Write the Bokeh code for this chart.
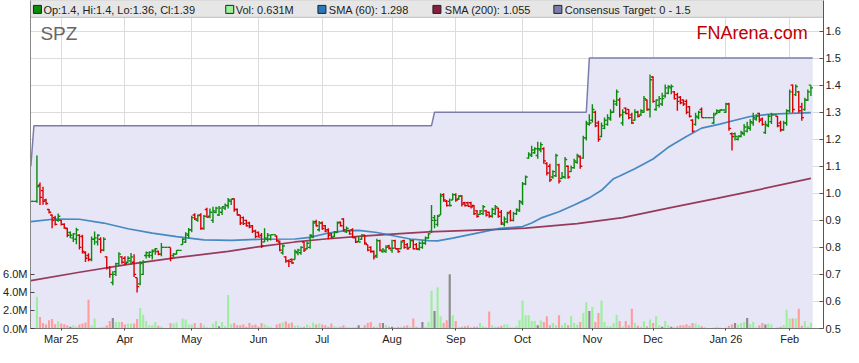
import numpy as np
from bokeh.plotting import figure
from bokeh.models import Range1d, LinearAxis, FixedTicker, ColumnDataSource, PrintfTickFormatter
from bokeh.embed import file_html
from bokeh.resources import INLINE
from bokeh.core.properties import value

# ---------------- data (one entry per weekday slot, 17 Feb 2025 .. 11 Feb 2026) ----------------
ticker = "SPZ"

opens = [
    0.97, 0.97, 0.97, 1.03, 1.01, 0.975, 0.94, 0.92, 0.91, 0.90,
    0.90, 0.885, 0.87, 0.855, 0.835, 0.83, 0.845, 0.84, 0.78, 0.77,
    0.755, 0.83, 0.82, 0.83, 0.79, 0.765, 0.725, 0.67, 0.71, 0.74,
    0.765, 0.76, 0.745, 0.75, 0.745, 0.688, 0.665, 0.70, 0.77, 0.77,
    0.77, 0.79, 0.785, 0.775, 0.80, 0.80, 0.80, 0.77, 0.775, 0.789,
    0.81, 0.82, 0.845, 0.865, 0.92, 0.90, 0.92, 0.87, 0.94, 0.915,
    0.90, 0.93, 0.92, 0.93, 0.945, 0.955, 0.97, 0.98, 0.94, 0.92,
    0.91, 0.90, 0.89, 0.88, 0.86, 0.855, 0.845, 0.82, 0.83, 0.83,
    0.847, 0.842, 0.82, 0.78, 0.765, 0.75, 0.755, 0.755, 0.78, 0.78,
    0.82, 0.795, 0.80, 0.84, 0.895, 0.865, 0.89, 0.88, 0.865, 0.85,
    0.84, 0.855, 0.893, 0.905, 0.858, 0.862, 0.865, 0.835, 0.822, 0.83,
    0.845, 0.81, 0.80, 0.785, 0.77, 0.825, 0.785, 0.785, 0.805, 0.79,
    0.825, 0.795, 0.795, 0.825, 0.81, 0.80, 0.825, 0.81, 0.795, 0.80,
    0.815, 0.835, 0.86, 0.91, 0.885, 0.92, 0.995, 0.97, 0.97, 0.975,
    0.995, 0.98, 0.99, 0.965, 0.965, 0.965, 0.955, 0.935, 0.922, 0.925,
    0.935, 0.93, 0.915, 0.925, 0.945, 0.93, 0.885, 0.895, 0.93, 0.90,
    0.925, 0.935, 0.965, 1.035, 1.13, 1.14, 1.15, 1.14, 1.16, 1.165,
    1.11, 1.10, 1.06, 1.065, 1.105, 1.055, 1.06, 1.10, 1.08, 1.095,
    1.115, 1.135, 1.13, 1.205, 1.255, 1.27, 1.30, 1.26, 1.21, 1.24,
    1.255, 1.275, 1.30, 1.33, 1.345, 1.26, 1.315, 1.31, 1.29, 1.27,
    1.30, 1.29, 1.30, 1.345, 1.31, 1.43, 1.31, 1.325, 1.33, 1.36,
    1.37, 1.39, 1.375, 1.365, 1.355, 1.345, 1.34, 1.32, 1.27, 1.255,
    1.28, 1.31, 1.28, 1.28, 1.28, 1.26, 1.295, 1.30, 1.308, 1.30,
    1.33, 1.22, 1.22, 1.20, 1.21, 1.22, 1.23, 1.24, 1.26, 1.275,
    1.295, 1.275, 1.225, 1.25, 1.265, 1.29, 1.285, 1.26, 1.235, 1.26,
    1.305, 1.40, 1.365, 1.375, 1.32, 1.31, 1.345, 1.4,
]
highs = [
    0.97, 0.97, 1.14, 1.04, 1.024, 0.98, 0.942, 0.922, 0.917, 0.925,
    0.901, 0.889, 0.873, 0.859, 0.853, 0.873, 0.849, 0.847, 0.786, 0.778,
    0.84, 0.859, 0.849, 0.837, 0.837, 0.767, 0.731, 0.712, 0.743, 0.782,
    0.767, 0.767, 0.767, 0.779, 0.775, 0.688, 0.749, 0.752, 0.785, 0.785,
    0.792, 0.798, 0.788, 0.816, 0.80, 0.80, 0.80, 0.779, 0.789, 0.789,
    0.834, 0.856, 0.872, 0.917, 0.926, 0.922, 0.926, 0.92, 0.947, 0.944,
    0.95, 0.95, 0.953, 0.95, 0.962, 0.983, 0.98, 0.981, 0.944, 0.92,
    0.914, 0.902, 0.895, 0.883, 0.865, 0.859, 0.853, 0.871, 0.853, 0.847,
    0.847, 0.844, 0.825, 0.812, 0.767, 0.755, 0.759, 0.792, 0.795, 0.804,
    0.822, 0.822, 0.849, 0.899, 0.902, 0.898, 0.896, 0.883, 0.871, 0.853,
    0.861, 0.896, 0.896, 0.908, 0.877, 0.865, 0.871, 0.837, 0.84, 0.849,
    0.847, 0.81, 0.804, 0.788, 0.832, 0.828, 0.798, 0.808, 0.81, 0.828,
    0.828, 0.798, 0.825, 0.828, 0.816, 0.831, 0.828, 0.816, 0.822, 0.825,
    0.84, 0.853, 0.957, 0.92, 0.92, 1.0, 1.0, 0.975, 0.981, 1.0,
    1.0, 0.993, 0.993, 0.969, 0.969, 0.969, 0.957, 0.938, 0.938, 0.957,
    0.938, 0.932, 0.947, 0.957, 0.947, 0.938, 0.914, 0.932, 0.938, 0.932,
    0.944, 0.975, 1.042, 1.066, 1.152, 1.176, 1.17, 1.191, 1.189, 1.17,
    1.115, 1.109, 1.085, 1.146, 1.109, 1.079, 1.134, 1.103, 1.103, 1.128,
    1.146, 1.14, 1.213, 1.268, 1.292, 1.329, 1.305, 1.268, 1.262, 1.28,
    1.292, 1.311, 1.347, 1.384, 1.353, 1.311, 1.317, 1.311, 1.298, 1.311,
    1.305, 1.311, 1.36, 1.347, 1.439, 1.433, 1.347, 1.36, 1.372, 1.402,
    1.40, 1.402, 1.378, 1.372, 1.36, 1.347, 1.347, 1.323, 1.274, 1.298,
    1.305, 1.317, 1.28, 1.28, 1.28, 1.298, 1.311, 1.31, 1.308, 1.335,
    1.335, 1.225, 1.225, 1.213, 1.231, 1.256, 1.265, 1.274, 1.298, 1.292,
    1.298, 1.28, 1.268, 1.292, 1.298, 1.29, 1.286, 1.268, 1.268, 1.311,
    1.384, 1.402, 1.402, 1.378, 1.335, 1.353, 1.384, 1.4,
]
lows = [
    0.97, 0.97, 0.965, 0.957, 0.958, 0.958, 0.925, 0.871, 0.881, 0.895,
    0.881, 0.869, 0.837, 0.834, 0.82, 0.812, 0.792, 0.777, 0.746, 0.749,
    0.749, 0.81, 0.807, 0.779, 0.786, 0.718, 0.688, 0.66, 0.694, 0.731,
    0.739, 0.734, 0.743, 0.736, 0.69, 0.633, 0.66, 0.698, 0.759, 0.761,
    0.755, 0.773, 0.771, 0.767, 0.80, 0.80, 0.749, 0.764, 0.774, 0.789,
    0.81, 0.816, 0.834, 0.856, 0.901, 0.895, 0.865, 0.865, 0.91, 0.908,
    0.89, 0.926, 0.916, 0.92, 0.938, 0.944, 0.957, 0.932, 0.918, 0.883,
    0.883, 0.877, 0.871, 0.853, 0.834, 0.837, 0.798, 0.82, 0.822, 0.825,
    0.847, 0.82, 0.786, 0.773, 0.743, 0.727, 0.739, 0.755, 0.771, 0.773,
    0.783, 0.792, 0.795, 0.834, 0.877, 0.859, 0.865, 0.856, 0.83, 0.832,
    0.837, 0.853, 0.877, 0.859, 0.853, 0.847, 0.834, 0.816, 0.82, 0.828,
    0.81, 0.786, 0.78, 0.755, 0.761, 0.786, 0.78, 0.78, 0.792, 0.78,
    0.795, 0.78, 0.795, 0.795, 0.792, 0.798, 0.792, 0.792, 0.788, 0.795,
    0.81, 0.832, 0.853, 0.871, 0.877, 0.92, 0.969, 0.951, 0.951, 0.975,
    0.969, 0.975, 0.951, 0.951, 0.951, 0.944, 0.92, 0.91, 0.92, 0.92,
    0.914, 0.91, 0.91, 0.92, 0.91, 0.883, 0.877, 0.889, 0.896, 0.896,
    0.92, 0.932, 0.957, 1.03, 1.128, 1.134, 1.146, 1.128, 1.152, 1.109,
    1.066, 1.042, 1.054, 1.06, 1.036, 1.054, 1.054, 1.054, 1.079, 1.091,
    1.109, 1.091, 1.128, 1.195, 1.25, 1.262, 1.244, 1.191, 1.207, 1.237,
    1.25, 1.268, 1.298, 1.323, 1.28, 1.25, 1.292, 1.274, 1.256, 1.268,
    1.28, 1.286, 1.298, 1.305, 1.28, 1.335, 1.305, 1.317, 1.323, 1.353,
    1.366, 1.366, 1.347, 1.305, 1.329, 1.323, 1.292, 1.28, 1.225, 1.25,
    1.274, 1.28, 1.28, 1.28, 1.28, 1.256, 1.292, 1.298, 1.308, 1.298,
    1.231, 1.158, 1.195, 1.195, 1.207, 1.213, 1.225, 1.231, 1.25, 1.268,
    1.262, 1.25, 1.219, 1.244, 1.256, 1.29, 1.244, 1.228, 1.231, 1.25,
    1.298, 1.298, 1.36, 1.298, 1.268, 1.305, 1.341, 1.36,
]
closes = [
    0.97, 0.97, 1.025, 0.985, 0.97, 0.962, 0.93, 0.90, 0.885, 0.915,
    0.885, 0.872, 0.845, 0.845, 0.85, 0.865, 0.80, 0.785, 0.76, 0.755,
    0.83, 0.835, 0.845, 0.79, 0.83, 0.725, 0.70, 0.70, 0.74, 0.775,
    0.745, 0.74, 0.76, 0.765, 0.70, 0.655, 0.74, 0.745, 0.78, 0.782,
    0.785, 0.795, 0.775, 0.80, 0.80, 0.80, 0.76, 0.775, 0.789, 0.789,
    0.83, 0.85, 0.865, 0.91, 0.905, 0.918, 0.87, 0.915, 0.912, 0.93,
    0.935, 0.945, 0.945, 0.95, 0.955, 0.975, 0.978, 0.94, 0.92, 0.89,
    0.888, 0.88, 0.875, 0.86, 0.84, 0.838, 0.805, 0.835, 0.845, 0.847,
    0.847, 0.825, 0.79, 0.805, 0.75, 0.748, 0.742, 0.785, 0.79, 0.80,
    0.79, 0.815, 0.845, 0.89, 0.88, 0.89, 0.87, 0.86, 0.845, 0.835,
    0.858, 0.89, 0.88, 0.865, 0.87, 0.85, 0.838, 0.82, 0.82, 0.845,
    0.815, 0.79, 0.785, 0.765, 0.825, 0.79, 0.79, 0.80, 0.797, 0.797,
    0.795, 0.785, 0.82, 0.80, 0.795, 0.825, 0.795, 0.793, 0.815, 0.815,
    0.835, 0.85, 0.90, 0.90, 0.915, 0.99, 0.975, 0.955, 0.955, 0.995,
    0.975, 0.99, 0.96, 0.955, 0.952, 0.95, 0.925, 0.915, 0.935, 0.95,
    0.92, 0.915, 0.94, 0.95, 0.915, 0.89, 0.905, 0.925, 0.90, 0.925,
    0.94, 0.97, 1.035, 1.06, 1.145, 1.16, 1.165, 1.165, 1.18, 1.12,
    1.075, 1.05, 1.08, 1.14, 1.045, 1.06, 1.125, 1.06, 1.095, 1.12,
    1.14, 1.10, 1.205, 1.26, 1.26, 1.31, 1.25, 1.20, 1.25, 1.27,
    1.28, 1.30, 1.34, 1.375, 1.29, 1.30, 1.295, 1.28, 1.26, 1.30,
    1.285, 1.305, 1.35, 1.31, 1.42, 1.34, 1.345, 1.35, 1.35, 1.39,
    1.395, 1.395, 1.35, 1.34, 1.335, 1.33, 1.30, 1.285, 1.23, 1.285,
    1.30, 1.28, 1.28, 1.28, 1.28, 1.29, 1.305, 1.308, 1.308, 1.33,
    1.24, 1.21, 1.21, 1.212, 1.225, 1.245, 1.245, 1.265, 1.28, 1.285,
    1.27, 1.255, 1.255, 1.285, 1.29, 1.29, 1.25, 1.235, 1.26, 1.305,
    1.375, 1.31, 1.395, 1.305, 1.28, 1.345, 1.375, 1.39,
]
volumes_m = [
    0, 0, 3.5, 1.27, 0.62, 0.44, 0.9, 1.05, 0.47, 0.8,
    0.55, 0.47, 0.36, 0.18, 0.36, 0.22, 0.44, 0.55, 0.65, 3.16,
    0.36, 1.09, 0.11, 0.11, 0.18, 0.36, 0.84, 1.16, 0.73, 0.73,
    0.73, 0.44, 0.55, 0.55, 0.55, 1.05, 2.25, 1.53, 0.84, 0.36,
    0.4, 0.73, 0.29, 0.22, 0, 0, 0.62, 0.55, 0.65, 0,
    1.09, 0.98, 0.44, 0.44, 0.62, 0.11, 0.62, 0.36, 0.11, 0.11,
    0.55, 0.84, 0.25, 0.73, 0.25, 3.7, 0.47, 0.62, 0.36, 0.36,
    0.44, 0.18, 0.62, 0.36, 0.44, 0.22, 0.62, 0.47, 0.29, 0.18,
    0, 0.44, 0.55, 0.65, 0.8, 0.55, 0.65, 0.29, 0.36, 0.18,
    0.18, 0.44, 0.25, 0.65, 0.44, 0.55, 0.44, 0.36, 0.18, 0.55,
    0.25, 0.18, 0.18, 0.36, 0.18, 0.1, 0.12, 0.1, 0.36, 0.11,
    0.36, 0.62, 0.73, 0.18, 0.18, 0.62, 0.62, 0.36, 0.18, 0.18,
    0.11, 0.18, 0.18, 0.25, 0.36, 0.18, 1.09, 0.18, 0.15, 0.73,
    0.2, 0.73, 4.18, 1.93, 4.55, 1.35, 0.62, 0.91, 6.0, 1.45,
    0.84, 0.18, 0.18, 0.25, 0.29, 0.11, 0.18, 0.18, 0.62, 0.25,
    0.11, 1.89, 0.36, 0.18, 0.18, 0.29, 0.47, 0.44, 0.11, 0.11,
    0.25, 0.91, 3.09, 1.45, 1.45, 0.84, 0.84, 0.36, 0.91, 0.73,
    1.35, 0.36, 0.62, 0.36, 1.45, 0.36, 0.62, 0.36, 1.35, 0.62,
    0.44, 0.73, 1.71, 2.9, 1.93, 2.36, 0.73, 1.71, 3.09, 0.73,
    0.25, 0.25, 0.62, 1.53, 0.84, 0.25, 0.84, 0.36, 2.18, 0.62,
    0.29, 0.18, 0.8, 0.25, 0.98, 0.62, 1.35, 0.36, 0.18, 0.84,
    0.36, 0.18, 0.11, 0.25, 0.36, 0.36, 0.47, 0.29, 0.62, 0.55,
    0.36, 0.25, 0.07, 0, 0, 0.11, 0.18, 0.11, 0, 0.11,
    0.29, 0.44, 0.62, 0.44, 0.62, 0.73, 1.16, 0.47, 0.73, 0.11,
    0.36, 0.62, 0.44, 0.55, 0.44, 0, 0.11, 0.18, 0.4, 2.07,
    1.09, 1.09, 1.09, 2.18, 0.29, 0.84, 0.25, 0.631,
]

sma60_idx = [0, 8, 16, 24, 32, 40, 48, 57, 66, 76, 87, 92, 98, 103, 108, 114, 119, 125,
             131, 134, 139, 147, 154, 162, 165, 168, 174, 179, 184, 188, 192, 194, 199,
             205, 210, 216, 221, 227, 232, 237, 243, 248, 257]
sma60_val = [0.895, 0.905, 0.904, 0.89, 0.869, 0.853, 0.84, 0.828, 0.826, 0.83, 0.831,
             0.837, 0.853, 0.861, 0.863, 0.855, 0.844, 0.831, 0.825, 0.824, 0.834, 0.853,
             0.869, 0.877, 0.89, 0.908, 0.932, 0.957, 0.983, 1.011, 1.054, 1.064, 1.091,
             1.127, 1.17, 1.21, 1.241, 1.256, 1.27, 1.284, 1.292, 1.295, 1.298]
sma200_idx = [0, 16, 32, 48, 65, 76, 87, 97, 108, 119, 131, 147, 163, 180, 195, 210, 226, 238, 257]
sma200_val = [0.677, 0.708, 0.737, 0.762, 0.785, 0.804, 0.82, 0.831, 0.841, 0.849, 0.857,
              0.864, 0.871, 0.888, 0.91, 0.945, 0.981, 1.009, 1.055]

target_idx = [0, 1, 132, 133, 183, 184, 257]
target_val = [1.10, 1.25, 1.25, 1.30, 1.30, 1.5, 1.5]
target_low = 0

month_idx = [10, 31, 53, 75, 96, 119, 140, 162, 185, 205, 229, 250]
month_labels = ["Mar 25", "Apr", "May", "Jun", "Jul", "Aug", "Sep", "Oct", "Nov", "Dec", "Jan 26", "Feb"]
price_ticks = [0.5, 0.6, 0.7, 0.8, 0.9, 1.0, 1.1, 1.2, 1.3, 1.4, 1.5, 1.6]
vol_ticks = [0, 2, 4, 6]

# ---------------- styling ----------------
FONT = "Liberation Sans"
UP, DOWN = "#0b8a0b", "#d80000"
VUP, VDOWN, VFLAT = "#9cf09c", "#ff9d9d", "#8a8a8a"
C_SMA60, C_SMA200, C_TGT, C_FILL = "#2a78b8", "#8a1c40", "#7c7cab", "#e6e6f6"

X0, X1 = -0.12, 261.15
Y0, Y1 = 0.5, 1.713
VMAX = 36.2

# reference-pixel helpers for decorations (frame = 800 x 332 px)
def xd(px):
    return X0 + (px - 31) * (X1 - X0) / 800.0

def yd(py):
    return Y1 - py * (Y1 - Y0) / 332.0

o = np.array(opens); h = np.array(highs); l = np.array(lows); c = np.array(closes)
v = np.array(volumes_m)
n = len(c)
idx = np.arange(n, dtype=float)
prev = np.concatenate([[c[0]], c[:-1]])
bar_col = np.where(c >= prev, UP, DOWN)
vol_col = np.where(c > prev, VUP, np.where(c < prev, VDOWN, VFLAT))

p = figure(width=843, height=347, x_range=Range1d(X0, X1), y_range=Range1d(Y0, Y1),
           y_axis_location="right", toolbar_location=None, output_backend="svg",
           min_border_left=28, min_border_right=18, min_border_top=0, min_border_bottom=18,
           background_fill_color="white", border_fill_color="white", outline_line_color=None)
p.extra_y_ranges = {"vol": Range1d(0, VMAX)}

# grid
p.xgrid.ticker = FixedTicker(ticks=month_idx)
p.ygrid.ticker = FixedTicker(ticks=price_ticks)
p.xgrid.grid_line_color = "#dcdcdc"
p.ygrid.grid_line_color = "#dcdcdc"

# price axis (right)
ya = p.yaxis[0]
ya.ticker = FixedTicker(ticks=price_ticks)
ya.formatter = PrintfTickFormatter(format="%.1f")
ya.major_tick_in = 4
ya.major_tick_out = 0
ya.minor_tick_line_color = None
ya.major_label_standoff = 2
ya.axis_line_color = "#555555"
ya.major_tick_line_color = "#555555"
ya.major_label_text_font = FONT
ya.major_label_text_font_size = "11px"
ya.major_label_text_color = "#222222"

# volume axis (left)
va = LinearAxis(y_range_name="vol", ticker=FixedTicker(ticks=vol_ticks),
                formatter=PrintfTickFormatter(format="%.1fM"))
va.major_tick_in = 4
va.major_tick_out = 0
va.minor_tick_line_color = None
va.major_label_standoff = 3
va.axis_line_color = "#888888"
va.major_tick_line_color = "#444444"
va.major_label_text_font = FONT
va.major_label_text_font_size = "11px"
va.major_label_text_color = "#222222"
p.add_layout(va, "left")

# date axis
xa = p.xaxis[0]
xa.ticker = FixedTicker(ticks=month_idx)
xa.major_label_overrides = {m: lab for m, lab in zip(month_idx, month_labels)}
xa.major_tick_in = 0
xa.major_tick_out = 2
xa.minor_tick_line_color = None
xa.major_label_standoff = 2
xa.axis_line_color = "#777777"
xa.major_tick_line_color = "#444444"
xa.major_label_text_font = FONT
xa.major_label_text_font_size = "11px"
xa.major_label_text_color = "#222222"

# consensus target band
tx = np.array(target_idx, dtype=float)
tv = np.array(target_val, dtype=float)
fx = np.append(tx, tx[-1] + 0.6)
fv = np.append(tv, tv[-1])
p.varea(x=fx, y1=Y0, y2=fv, fill_color=C_FILL)

# volume
p.vbar(x=idx, top=v, bottom=0, width=0.7, y_range_name="vol",
       fill_color=vol_col, line_color=None)

# moving averages and target line
p.line(sma200_idx, sma200_val, line_color=C_SMA200, line_width=1.7, line_alpha=0.85)
p.line(sma60_idx, sma60_val, line_color=C_SMA60, line_width=1.7, line_alpha=0.85)
p.line(fx, fv, line_color=C_TGT, line_width=1.5)

# OHLC bars
tick = 0.7
src = ColumnDataSource(dict(x=idx, xl=idx - tick, xr=idx + tick, o=o, h=h, l=l, c=c, col=bar_col))
p.segment(x0="x", y0="l", x1="x", y1="h", line_color="col", line_width=1.4, source=src)
p.segment(x0="xl", y0="o", x1="x", y1="o", line_color="col", line_width=1.4, source=src)
p.segment(x0="x", y0="c", x1="xr", y1="c", line_color="col", line_width=1.4, source=src)

# legend strip
p.quad(left=[X0], right=[X1], bottom=[yd(17)], top=[Y1], fill_color="#e6e6e6", line_color="#bdbdbd")
leg_text = [
    f"Op:{opens[-1]}, Hi:{highs[-1]}, Lo:{lows[-1]}, Cl:{closes[-1]}",
    f"Vol: {volumes_m[-1]}M",
    f"SMA (60): {sma60_val[-1]}",
    f"SMA (200): {sma200_val[-1]}",
    f"Consensus Target: {target_low} - {target_val[-1]}",
]
leg_col = [UP, VUP, C_SMA60, C_SMA200, C_TGT]
sq_px = [38, 232, 325, 441, 563]
tx_px = [44, 238, 332, 449, 570]
p.scatter(x=[xd(s) for s in sq_px], y=[yd(9)] * 5, marker="square", size=8,
          fill_color=leg_col, line_color="#222222", line_width=1)
p.text(x=[xd(t) for t in tx_px], y=[yd(9.5)] * 5, text=leg_text,
       text_font=value(FONT), text_font_size="11px", text_color="#222222",
       text_baseline="middle", text_align="left")

# titles inside the chart
p.text(x=[xd(41)], y=[yd(33)], text=[ticker], text_font=value(FONT), text_font_size="19px",
       text_color="#666666", text_baseline="middle", text_align="left")
p.text(x=[xd(815)], y=[yd(33)], text=["FNArena.com"], text_font=value(FONT), text_font_size="18px",
       text_color="#c00000", text_baseline="middle", text_align="right")

open("out.html", "w").write(file_html(p, INLINE))
